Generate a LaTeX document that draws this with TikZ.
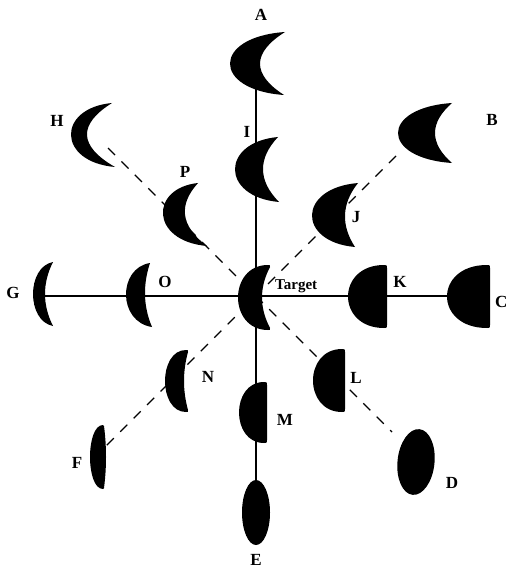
\documentclass[tikz,border=0pt]{standalone}
\usepackage{fontspec}
\setmainfont{Liberation Serif}
% crescent: tip1 x, tip1 y, tip2 x, tip2 y, outer x, inner x
\newcommand\mycres[6]{%
  \fill ({#1},{#2}) .. controls ({(8*#5-#1-#3)/6},{#2+0.08*(#4-#2)}) and ({(8*#5-#1-#3)/6},{#4-0.08*(#4-#2)}) .. ({#3},{#4})
        .. controls ({(8*#6-#1-#3)/6},{#4-0.33*(#4-#2)}) and ({(8*#6-#1-#3)/6},{#2+0.33*(#4-#2)}) .. cycle;}
% half lens: left x, right x, top y, bottom y, right edge middle x, corner radius
\newcommand\myhalf[6]{%
  \fill ({#2-#6},{#3}) .. controls ({#2},{#3}) .. ({#2},{#3+#6})
        .. controls ({(8*#5-2*#2)/6},{#3+#6+(#4-#3-2*#6)/3}) and ({(8*#5-2*#2)/6},{#4-#6-(#4-#3-2*#6)/3}) .. ({#2},{#4-#6})
        .. controls ({#2},{#4}) .. ({#2-#6},{#4})
        .. controls ({#2-#6-4/3*(#2-#6-#1)},{#4}) and ({#2-#6-4/3*(#2-#6-#1)},{#3}) .. cycle;}
\begin{document}
\begin{tikzpicture}[x=1pt,y=-1pt,
  lab/.style={font=\fontsize{17}{17}\selectfont\bfseries, inner sep=0pt},
  tlab/.style={font=\fontsize{15}{15}\selectfont\bfseries, inner sep=0pt, anchor=west},
  conn/.style={line width=1.2pt},
  dconn/.style={line width=1.2pt, dash pattern=on 10pt off 9pt}]
\useasboundingbox (0,0) rectangle (508,569);
\fill[white] (0,0) rectangle (508,569);
% connector end points
\coordinate (cA) at (256,82);
\coordinate (cE) at (256,500);
\coordinate (cG) at (45,296);
\coordinate (cC) at (460,296);
\coordinate (cH) at (108,148);
\coordinate (cD) at (392,432);
\coordinate (cB) at (396,156);
\coordinate (cF) at (104,448);
% connectors
\draw[conn] (cA) -- (cE);
\draw[conn] (cG) -- (cC);
\draw[dconn] (cH) -- (cD);
\draw[dconn] (cB) -- (cF);
% crescents
\mycres{285}{32}{284}{95}{230}{260}   % A
\mycres{278}{137}{279}{202}{235}{263} % I
\mycres{112}{103}{115}{167}{71}{87}   % H
\mycres{198}{183}{207}{246}{163}{185} % P
\mycres{452}{103}{452}{163}{398}{435} % B
\mycres{358}{183}{355}{247}{312}{345} % J
\mycres{53}{262}{53}{326}{33}{45}     % G
\mycres{150}{263}{152}{327}{126}{145} % O
% half lenses
\myhalf{238}{270}{265}{330}{262}{2}      % Target
\myhalf{348}{387}{265}{328}{387}{3}      % K
\myhalf{447}{490}{265}{328}{490}{3}      % C
\myhalf{165}{188}{350}{412}{184}{2}      % N
\myhalf{313}{345}{349}{412}{345}{3}      % L
\myhalf{239}{267}{382}{443}{267}{3}      % M
\myhalf{90}{104}{425}{489}{106}{1}       % F
% ellipses
\fill[rotate around={-6:(416,462)}] (416,462) ellipse [x radius=18.5pt, y radius=33pt]; % D
\fill (256,512.5) ellipse [x radius=14pt, y radius=32.5pt]; % E
% labels
\node[lab] (lA) at (261,15) {A};
\node[lab] (lB) at (492,120) {B};
\node[lab,anchor=west] (lC) at (495,302) {C};
\node[lab] (lD) at (452,483) {D};
\node[lab] (lE) at (256,560) {E};
\node[lab] (lF) at (77,463) {F};
\node[lab] (lG) at (13,293) {G};
\node[lab] (lH) at (57,121) {H};
\node[lab] (lI) at (247,132) {I};
\node[lab] (lJ) at (356,217) {J};
\node[lab] (lK) at (400,282) {K};
\node[lab] (lL) at (356,378) {L};
\node[lab] (lM) at (285,420) {M};
\node[lab] (lN) at (208,377) {N};
\node[lab] (lO) at (165,282) {O};
\node[lab] (lP) at (185,172) {P};
\node[tlab] (lT) at (275,286) {Target};
\end{tikzpicture}
\end{document}
